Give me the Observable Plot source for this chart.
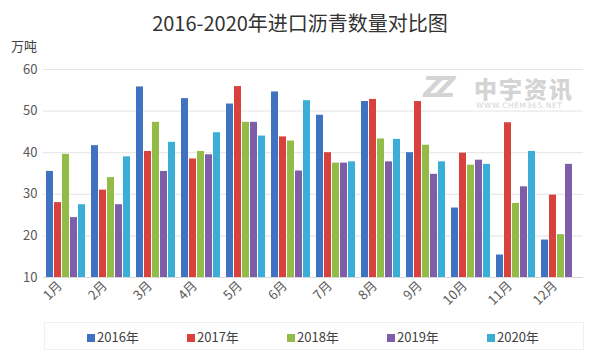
<!DOCTYPE html>
<html><head><meta charset="utf-8">
<script src="https://cdn.jsdelivr.net/npm/d3@7"></script>
<script src="https://cdn.jsdelivr.net/npm/@observablehq/plot@0.6"></script>
<style>
body{margin:0;background:#fff;font-family:"Noto Sans CJK SC","Noto Sans",sans-serif;}
#wrap{position:relative;width:600px;height:360px;overflow:hidden;}
#title{position:absolute;top:11px;left:0;width:600px;text-align:center;font-size:20px;color:#333;line-height:1.2;}
#unit{position:absolute;top:36px;left:11px;font-size:13px;color:#404040;}
#chart{position:absolute;top:38px;left:0;}
#legend{position:absolute;top:322px;left:44px;width:540px;height:28px;border:1px solid #f0f0f0;box-sizing:border-box;}
.li{position:absolute;top:4px;font-size:13px;color:#404040;}
.sw{display:inline-block;width:8px;height:8px;margin-right:2px;vertical-align:0px;}
#wm{position:absolute;left:423px;top:74px;color:#d4d4d4;}
</style></head><body>
<div id="wrap">
<div id="title">2016-2020年进口沥青数量对比图</div>
<div id="unit">万吨</div>
<div id="chart"></div>
<div id="wm">
<div style="position:absolute;left:0;top:0;font:italic 900 28px/1 'DejaVu Sans';letter-spacing:-8px;width:60px;">ZZ</div>
<div style="position:absolute;left:51px;top:3px;font:900 23px/1 'Noto Sans CJK SC';white-space:nowrap;letter-spacing:2px;">中宇资讯</div>
<div style="position:absolute;left:53px;top:28px;font:7.5px/1 'DejaVu Sans';white-space:nowrap;letter-spacing:0.6px;">WWW.CHEM365.NET</div>
</div>
<div id="legend"></div>
</div>
<script>
const months = ["1月","2月","3月","4月","5月","6月","7月","8月","9月","10月","11月","12月"];
const years = ["2016年","2017年","2018年","2019年","2020年"];
const colors = ["#3f72c0","#d9413d","#92bb47","#7e5ea8","#3aaed6"];
const v2016 = [35.5,41.7,55.8,53.0,51.7,54.6,49.0,52.3,40.0,26.7,15.4,19.0];
const v2017 = [28.0,31.0,40.3,38.5,55.9,43.8,40.0,52.8,52.3,39.9,47.2,29.8];
const v2018 = [39.6,34.0,47.3,40.3,47.3,42.8,37.5,43.3,41.8,37.0,27.8,20.3];
const v2019 = [24.4,27.5,35.5,39.5,47.3,35.6,37.5,37.8,34.8,38.2,31.8,37.2];
const v2020 = [27.5,39.0,42.5,44.8,44.0,52.5,37.8,43.2,37.8,37.2,40.3,null];
const yTicks = [10,20,30,40,50,60];

const series = [v2016,v2017,v2018,v2019,v2020];
const data = [];
months.forEach((m,i)=>series.forEach((s,j)=>{ if(s[i]!=null) data.push({month:m, year:years[j], value:s[i]}); }));

const chart = Plot.plot({
  width:600, height:284,
  marginLeft:42, marginRight:17, marginTop:31, marginBottom:45,
  style:{fontFamily:"'Noto Sans CJK SC','Noto Sans',sans-serif", fontSize:"13px", color:"#595959"},
  fx:{domain:months, padding:0, label:null, axis:null},
  x:{domain:years, axis:null, paddingInner:0.15, paddingOuter:0.375},
  y:{domain:[10,60], ticks:yTicks, label:null, tickSize:0, tickPadding:6},
  color:{domain:years, range:colors},
  marks:[
    Plot.gridY(yTicks.slice(1), {stroke:"#e4e4e4", strokeOpacity:1}),
    Plot.barY(data, {fx:"month", x:"year", y1:10, y2:"value", fill:"year"}),
    Plot.ruleY([10], {stroke:"#d9d9d9"}),
    Plot.axisFx({anchor:"bottom", tickRotate:-45, tickSize:0, tickPadding:2, dx:-6, dy:4, label:null, fontSize:13})
  ]
});
document.getElementById("chart").appendChild(chart);

const lg = document.getElementById("legend");
years.forEach((y,i)=>{
  const d = document.createElement("div");
  d.className="li"; d.style.left=(42+100*i)+"px";
  d.innerHTML = `<span class="sw" style="background:${colors[i]}"></span>${y}`;
  lg.appendChild(d);
});
</script>
</body></html>
